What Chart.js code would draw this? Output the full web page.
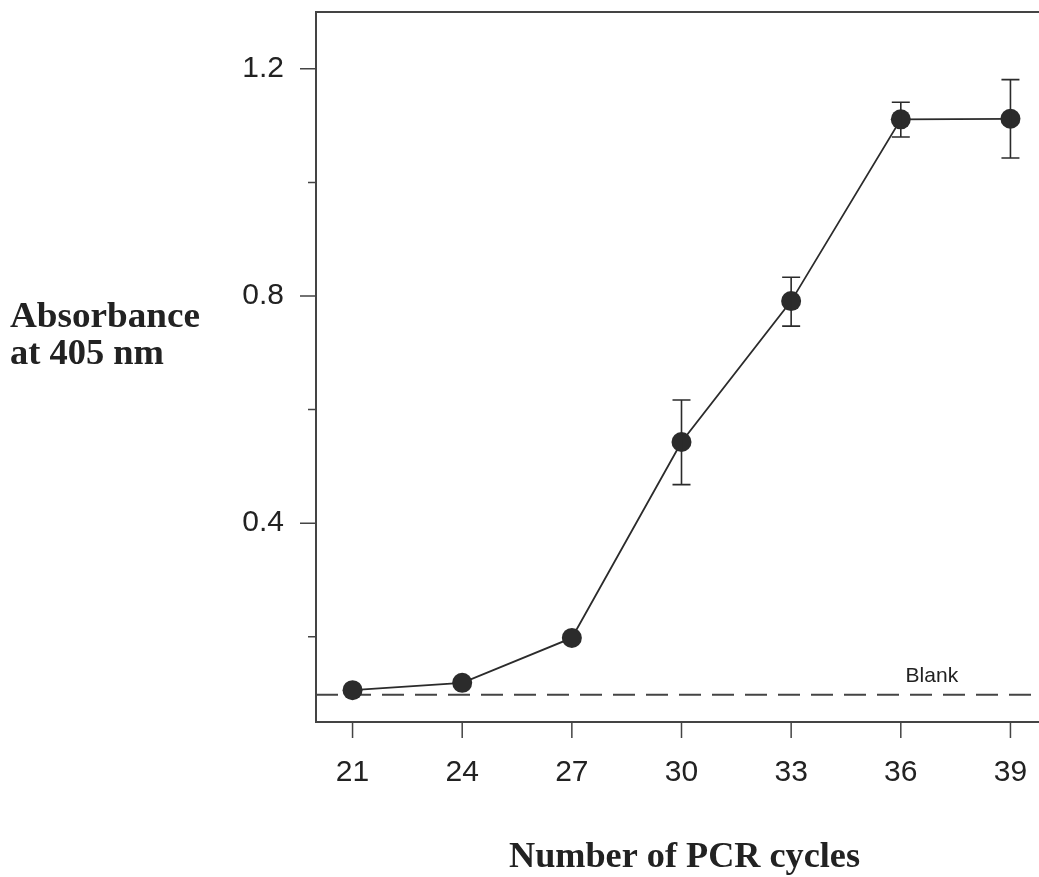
<!DOCTYPE html>
<html>
<head>
<meta charset="utf-8">
<script src="https://cdn.jsdelivr.net/npm/chart.js@4/dist/chart.umd.min.js"></script>
<style>
  html, body { margin: 0; padding: 0; background: #fff; overflow: hidden; }
  #wrap { width: 1039px; height: 877px; overflow: hidden; }
  #box { width: 1060px; height: 877px; }
</style>
</head>
<body>
<div id="wrap"><div id="box"><canvas id="chart"></canvas></div></div>
<script>
const cycles = [21, 24, 27, 30, 33, 36, 39];
const absorbance = [0.106, 0.119, 0.198, 0.543, 0.791, 1.111, 1.112];
const errLow = [null, null, null, 0.468, 0.747, 1.080, 1.043];
const errHigh = [null, null, null, 0.617, 0.833, 1.141, 1.181];
const blankValue = 0.098;
const blankX = [20, 40];
const yMajor = [0.4, 0.8, 1.2];
const yMinor = [0.2, 0.6, 1.0];

const ink = '#2b2b2b';
const titleFont = 'bold 35px "Liberation Serif", "DejaVu Serif", serif';

// keep the plot box fixed: no extra room for edge labels
const noEdgePad = scale => {
  scale.paddingTop = 0;
  scale.paddingBottom = 0;
  scale.paddingLeft = 0;
  scale.paddingRight = 0;
};

// write text squeezed/stretched to a given width
const fitText = (ctx, text, x, y, width) => {
  const w = ctx.measureText(text).width;
  ctx.save();
  ctx.translate(x, y);
  ctx.scale(width / w, 1);
  ctx.fillText(text, 0, 0);
  ctx.restore();
};

// error bars, tick marks, frame, blank label and axis titles
const extras = {
  id: 'extras',
  afterDatasetsDraw(chart) {
    const { ctx, scales: { x, y } } = chart;
    ctx.save();
    ctx.strokeStyle = ink;
    ctx.lineWidth = 1.6;
    cycles.forEach((c, i) => {
      if (errLow[i] == null) return;
      const px = x.getPixelForValue(c);
      const lo = y.getPixelForValue(errLow[i]);
      const hi = y.getPixelForValue(errHigh[i]);
      ctx.beginPath();
      ctx.moveTo(px, lo); ctx.lineTo(px, hi);
      ctx.moveTo(px - 9, lo); ctx.lineTo(px + 9, lo);
      ctx.moveTo(px - 9, hi); ctx.lineTo(px + 9, hi);
      ctx.stroke();
    });
    ctx.restore();
  },
  afterDraw(chart) {
    const { ctx, chartArea: a, scales: { x, y } } = chart;
    ctx.save();
    ctx.strokeStyle = '#444';
    ctx.lineWidth = 2;
    ctx.strokeRect(a.left, a.top, a.right - a.left, a.bottom - a.top);
    ctx.lineWidth = 1.5;
    ctx.beginPath();
    yMajor.forEach(v => { const py = y.getPixelForValue(v); ctx.moveTo(a.left - 16, py); ctx.lineTo(a.left, py); });
    yMinor.forEach(v => { const py = y.getPixelForValue(v); ctx.moveTo(a.left - 8, py); ctx.lineTo(a.left, py); });
    cycles.forEach(v => { const px = x.getPixelForValue(v); ctx.moveTo(px, a.bottom); ctx.lineTo(px, a.bottom + 16); });
    ctx.stroke();

    ctx.fillStyle = '#222';
    ctx.font = '21px "Liberation Sans", Arial, sans-serif';
    ctx.textAlign = 'center';
    ctx.textBaseline = 'middle';
    ctx.fillText('Blank', x.getPixelForValue(36.85), y.getPixelForValue(blankValue) - 19);

    ctx.font = titleFont;
    ctx.textAlign = 'left';
    fitText(ctx, 'Absorbance', 10, 318, 190);
    fitText(ctx, 'at 405 nm', 10, 355, 154);
    fitText(ctx, 'Number of PCR cycles', 509, 858, 351);
    ctx.restore();
  }
};

new Chart(document.getElementById('chart'), {
  type: 'line',
  data: {
    datasets: [
      {
        label: 'Absorbance',
        data: cycles.map((c, i) => ({ x: c, y: absorbance[i] })),
        borderColor: ink,
        borderWidth: 1.8,
        pointRadius: 10,
        pointBackgroundColor: ink,
        pointBorderColor: ink,
        pointBorderWidth: 0,
        fill: false,
      },
      {
        label: 'Blank',
        data: blankX.map(v => ({ x: v, y: blankValue })),
        borderColor: '#444',
        borderWidth: 2,
        borderDash: [22, 11],
        pointRadius: 0,
        fill: false,
      },
    ],
  },
  options: {
    responsive: true,
    maintainAspectRatio: false,
    animation: false,
    layout: { padding: { top: 12, right: 13, left: 0, bottom: 0 } },
    plugins: { legend: { display: false }, tooltip: { enabled: false } },
    scales: {
      x: {
        type: 'linear',
        min: 20,
        max: 40,
        afterBuildTicks: scale => { scale.ticks = cycles.map(v => ({ value: v })); },
        afterFit: scale => { scale.height = 155; noEdgePad(scale); },
        grid: { display: false, drawTicks: false, tickLength: 16 },
        border: { display: false },
        ticks: {
          padding: 33,
          color: '#222',
          font: { family: '"Liberation Sans", Arial, sans-serif', size: 30 },
        },
      },
      y: {
        min: 0.05,
        max: 1.3,
        afterBuildTicks: scale => { scale.ticks = yMajor.map(v => ({ value: v })); },
        afterFit: scale => { scale.width = 316; noEdgePad(scale); },
        grid: { display: false, drawTicks: false, tickLength: 16 },
        border: { display: false },
        ticks: {
          padding: 32,
          color: '#222',
          callback: v => v.toFixed(1),
          font: { family: '"Liberation Sans", Arial, sans-serif', size: 30 },
        },
      },
    },
  },
  plugins: [extras],
});
</script>
</body>
</html>
